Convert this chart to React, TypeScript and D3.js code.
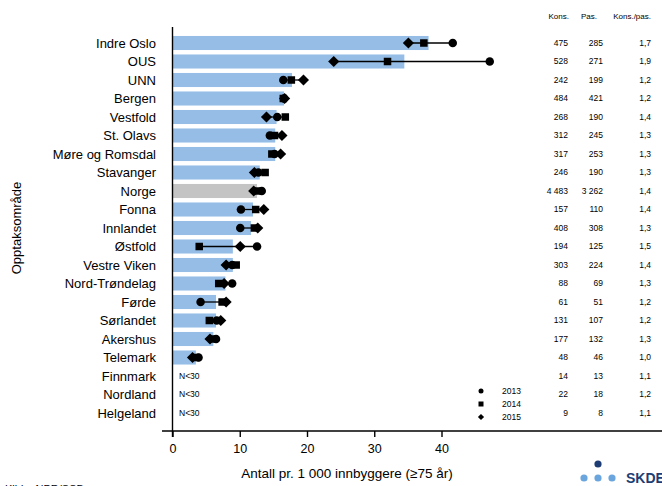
import React from "react";
import * as d3 from "d3";

const categories = ["Indre Oslo","OUS","UNN","Bergen","Vestfold","St. Olavs","Møre og Romsdal","Stavanger","Norge","Fonna","Innlandet","Østfold","Vestre Viken","Nord-Trøndelag","Førde","Sørlandet","Akershus","Telemark","Finnmark","Nordland","Helgeland"];
const barValues: (number | null)[] = [38.0,34.4,17.7,16.5,15.4,15.2,15.2,12.9,12.5,11.9,11.6,8.9,8.9,7.8,6.4,6.4,6.0,3.4,null,null,null];
const v2013: (number | null)[] = [41.6,47.1,16.4,16.5,15.5,14.4,15.1,12.7,13.2,10.1,10.0,12.5,8.8,8.8,4.1,6.5,6.4,3.8,null,null,null];
const v2014: (number | null)[] = [37.3,31.9,17.6,16.4,16.7,15.1,14.7,13.7,12.5,12.3,12.1,3.9,9.4,6.8,7.3,5.4,6.0,3.4,null,null,null];
const v2015: (number | null)[] = [35.0,23.9,19.4,16.6,13.9,16.2,16.0,12.1,12.0,13.5,12.6,10.0,7.9,7.6,7.9,7.1,5.5,2.9,null,null,null];
const kons = ["475","528","242","484","268","312","317","246","4 483","157","408","194","303","88","61","131","177","48","14","22","9"];
const pas = ["285","271","199","421","190","245","253","190","3 262","110","308","125","224","69","51","107","132","46","13","18","8"];
const ratio = ["1,7","1,9","1,2","1,2","1,4","1,3","1,3","1,3","1,4","1,4","1,3","1,5","1,4","1,3","1,2","1,2","1,3","1,0","1,1","1,2","1,1"];
const xTicks = [0, 10, 20, 30, 40];
const legendYears = ["2013", "2014", "2015"];

const FONT = "Arial, 'Liberation Sans', sans-serif";

function Marker({ kind, x, y, s }: { kind: string; x: number; y: number; s: number }) {
  if (kind === "circle") return <circle cx={x} cy={y} r={s / 2} fill="#000" />;
  if (kind === "square") return <rect x={x - s / 2} y={y - s / 2} width={s} height={s} fill="#000" />;
  const h = s * 0.62;
  return <path d={`M${x - h},${y} L${x},${y - h} L${x + h},${y} L${x},${y + h} Z`} fill="#000" />;
}

export default function App() {
  const x = d3.scaleLinear().domain([0, 40]).range([173, 442]);
  const y = d3.scaleBand().domain(categories).range([33.75, 422.25]).paddingInner(0.24).paddingOuter(0.12);
  const bh = y.bandwidth();
  const cy = (c: string) => (y(c) as number) + bh / 2;
  const axisY = 431;

  return (
    <svg width={662} height={486} style={{ position: "absolute", left: 0, top: 0, background: "#fff" }} fontFamily={FONT}>
      {categories.map((c, i) => {
        const b = barValues[i];
        return b != null ? (
          <rect key={"b" + c} x={x(0)} y={y(c)} width={x(b) - x(0)} height={bh} fill={c === "Norge" ? "#c4c4c4" : "#95bde6"} />
        ) : null;
      })}
      {categories.map((c, i) => {
        const vals = [v2013[i], v2014[i], v2015[i]].filter((v) => v != null) as number[];
        if (!vals.length) return null;
        const lo = d3.min(vals) as number, hi = d3.max(vals) as number;
        return (
          <g key={"m" + c}>
            <line x1={x(lo)} x2={x(hi)} y1={cy(c)} y2={cy(c)} stroke="#000" strokeWidth={1.3} />
            <Marker kind="circle" x={x(v2013[i] as number)} y={cy(c)} s={8.5} />
            <Marker kind="square" x={x(v2014[i] as number)} y={cy(c)} s={7.5} />
            <Marker kind="diamond" x={x(v2015[i] as number)} y={cy(c)} s={9} />
          </g>
        );
      })}
      {categories.map((c, i) =>
        barValues[i] == null ? (
          <text key={"n" + c} x={179} y={cy(c)} dy="0.35em" fontSize={8.5} fill="#000">N&lt;30</text>
        ) : null
      )}
      {/* axes */}
      <line x1={172.5} x2={172.5} y1={27} y2={437} stroke="#000" strokeWidth={1.4} />
      <line x1={162} x2={662} y1={axisY} y2={axisY} stroke="#000" strokeWidth={1.4} />
      {xTicks.map((t) => (
        <g key={"t" + t}>
          <line x1={x(t)} x2={x(t)} y1={axisY} y2={axisY + 6} stroke="#000" strokeWidth={1.4} />
          <text x={x(t)} y={449} dy="0.35em" textAnchor="middle" fontSize={12.5} fill="#000">{t}</text>
        </g>
      ))}
      {categories.map((c) => (
        <text key={"l" + c} x={156} y={cy(c)} dy="0.35em" textAnchor="end" fontSize={13} fill="#000">{c}</text>
      ))}
      <text transform="translate(21,228) rotate(-90)" textAnchor="middle" fontSize={13} fill="#000">Opptaksområde</text>
      <text x={347} y={478} textAnchor="middle" fontSize={13.5} fill="#000">Antall pr. 1 000 innbyggere (≥75 år)</text>
      {/* table */}
      <text x={569} y={19} textAnchor="end" fontSize={8} fill="#000">Kons.</text>
      <text x={597} y={19} textAnchor="end" fontSize={8} fill="#000">Pas.</text>
      <text x={651} y={19} textAnchor="end" fontSize={8} fill="#000">Kons./pas.</text>
      {categories.map((c, i) => (
        <g key={"r" + c} fontSize={8.5} fill="#000">
          <text x={568} y={cy(c)} dy="0.35em" textAnchor="end">{kons[i]}</text>
          <text x={603} y={cy(c)} dy="0.35em" textAnchor="end">{pas[i]}</text>
          <text x={651} y={cy(c)} dy="0.35em" textAnchor="end">{ratio[i]}</text>
        </g>
      ))}
      {/* legend */}
      {legendYears.map((yr, i) => (
        <g key={"lg" + yr}>
          <Marker kind={["circle", "square", "diamond"][i]} x={481} y={391 + i * 13} s={5} />
          <text x={502} y={391 + i * 13} dy="0.35em" fontSize={8.5} fill="#000">{yr}</text>
        </g>
      ))}
      <text x={5} y={493} fontSize={11} fill="#000">Kilde: NPR/SSB</text>
      {/* logo */}
      <circle cx={598} cy={464} r={3.6} fill="#1d3d74" />
      <circle cx={584} cy={478} r={3.6} fill="#6aa6dd" />
      <circle cx={598} cy={478} r={3.6} fill="#6aa6dd" />
      <circle cx={612} cy={478} r={3.6} fill="#6aa6dd" />
      <text x={626} y={483} fontSize={14} fontWeight="bold" fill="#1d3d74">SKDE</text>
    </svg>
  );
}
